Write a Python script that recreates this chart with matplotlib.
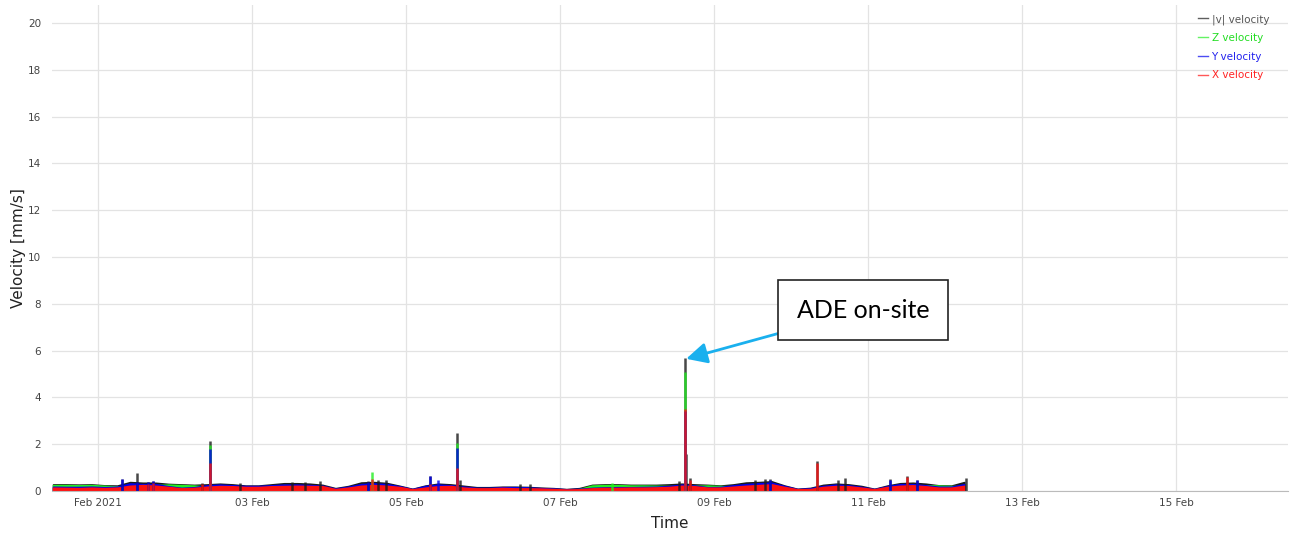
import matplotlib
matplotlib.use("Agg")
import matplotlib.pyplot as plt
import matplotlib.dates as mdates
import numpy as np

# baseline levels every 4 hours, from 2021-01-31 10:00 to 2021-02-12 06:00
base_times = np.arange(np.datetime64("2021-01-31T10:00"), np.datetime64("2021-02-12T06:01"),
                       np.timedelta64(4, "h"))

x_base = [0.14, 0.13, 0.12, 0.14, 0.12, 0.14,
          0.22, 0.25, 0.22, 0.17,
          0.11, 0.13, 0.18, 0.21, 0.20, 0.17,
          0.17, 0.20, 0.21, 0.22, 0.21, 0.20,
          0.08, 0.14, 0.22, 0.25, 0.22, 0.17,
          0.07, 0.14, 0.20, 0.21, 0.14, 0.11,
          0.11, 0.13, 0.11, 0.11, 0.10, 0.08,
          0.06, 0.07, 0.11, 0.13, 0.13, 0.14,
          0.14, 0.15, 0.17, 0.22, 0.20, 0.14,
          0.14, 0.18, 0.22, 0.25, 0.28, 0.17,
          0.07, 0.08, 0.17, 0.21, 0.20, 0.14,
          0.07, 0.17, 0.22, 0.24, 0.20, 0.14,
          0.14, 0.22]
y_base = [0.18, 0.17, 0.17, 0.18, 0.16, 0.18,
          0.32, 0.29, 0.29, 0.20,
          0.13, 0.16, 0.24, 0.27, 0.24, 0.21,
          0.21, 0.24, 0.27, 0.27, 0.25, 0.22,
          0.10, 0.18, 0.29, 0.32, 0.29, 0.20,
          0.08, 0.21, 0.27, 0.24, 0.18, 0.13,
          0.13, 0.16, 0.16, 0.15, 0.12, 0.10,
          0.07, 0.09, 0.13, 0.15, 0.16, 0.16,
          0.17, 0.18, 0.21, 0.27, 0.23, 0.16,
          0.17, 0.24, 0.29, 0.33, 0.35, 0.21,
          0.08, 0.11, 0.21, 0.27, 0.24, 0.17,
          0.08, 0.20, 0.29, 0.29, 0.24, 0.18,
          0.18, 0.29]
z_base = [0.25, 0.25, 0.24, 0.25, 0.22, 0.19,
          0.22, 0.20, 0.25, 0.27,
          0.25, 0.23, 0.18, 0.19, 0.18, 0.15,
          0.13, 0.20, 0.25, 0.23, 0.22, 0.15,
          0.07, 0.13, 0.19, 0.23, 0.19, 0.13,
          0.05, 0.10, 0.15, 0.15, 0.13, 0.10,
          0.10, 0.13, 0.13, 0.12, 0.10, 0.08,
          0.05, 0.08, 0.23, 0.25, 0.25, 0.23,
          0.23, 0.22, 0.21, 0.20, 0.22, 0.23,
          0.21, 0.20, 0.23, 0.20, 0.18, 0.13,
          0.05, 0.08, 0.13, 0.15, 0.15, 0.13,
          0.07, 0.13, 0.18, 0.22, 0.24, 0.23,
          0.21, 0.20]
v_base = [0.28, 0.28, 0.27, 0.28, 0.24, 0.23,
          0.38, 0.35, 0.35, 0.30,
          0.28, 0.26, 0.28, 0.31, 0.28, 0.23,
          0.23, 0.28, 0.33, 0.33, 0.31, 0.26,
          0.12, 0.21, 0.36, 0.38, 0.34, 0.22,
          0.09, 0.23, 0.31, 0.28, 0.22, 0.16,
          0.16, 0.18, 0.18, 0.17, 0.14, 0.12,
          0.08, 0.12, 0.26, 0.28, 0.28, 0.26,
          0.26, 0.26, 0.28, 0.31, 0.28, 0.26,
          0.23, 0.28, 0.36, 0.38, 0.41, 0.23,
          0.09, 0.13, 0.26, 0.31, 0.28, 0.21,
          0.09, 0.23, 0.33, 0.35, 0.31, 0.24,
          0.23, 0.38]

# short peaks: (time, value)
v_peaks = [("2021-02-01T07:30", 0.50), ("2021-02-01T12:15", 0.75), ("2021-02-01T15:35", 0.40),
           ("2021-02-01T17:10", 0.42), ("2021-02-02T08:25", 0.35), ("2021-02-02T10:55", 2.15),
           ("2021-02-02T20:15", 0.33), ("2021-02-03T12:30", 0.40), ("2021-02-03T16:30", 0.38),
           ("2021-02-03T21:10", 0.42), ("2021-02-04T12:10", 0.42), ("2021-02-04T15:20", 0.45),
           ("2021-02-04T17:50", 0.45), ("2021-02-05T07:30", 0.65), ("2021-02-05T15:55", 2.50),
           ("2021-02-05T16:50", 0.45), ("2021-02-06T11:30", 0.30), ("2021-02-06T14:40", 0.30),
           ("2021-02-08T13:00", 0.42), ("2021-02-08T14:55", 5.70), ("2021-02-08T15:20", 1.60),
           ("2021-02-08T16:30", 0.55), ("2021-02-09T12:50", 0.48), ("2021-02-09T16:00", 0.52),
           ("2021-02-09T17:30", 0.52), ("2021-02-10T08:10", 1.30), ("2021-02-10T14:40", 0.48),
           ("2021-02-10T16:50", 0.55), ("2021-02-11T06:50", 0.50), ("2021-02-11T12:10", 0.62),
           ("2021-02-11T15:15", 0.48), ("2021-02-12T06:30", 0.55)]
z_peaks = [("2021-02-02T10:55", 1.95), ("2021-02-04T13:25", 0.80), ("2021-02-05T15:55", 2.05),
           ("2021-02-07T16:15", 0.33), ("2021-02-08T14:55", 5.10)]
y_peaks = [("2021-02-01T07:30", 0.50), ("2021-02-01T12:15", 0.38), ("2021-02-01T15:35", 0.38),
           ("2021-02-01T17:10", 0.42), ("2021-02-02T10:55", 1.80), ("2021-02-04T12:10", 0.38),
           ("2021-02-05T07:30", 0.65), ("2021-02-05T10:00", 0.45), ("2021-02-05T15:55", 1.85),
           ("2021-02-08T14:55", 3.40), ("2021-02-09T17:30", 0.48), ("2021-02-11T06:50", 0.45),
           ("2021-02-11T15:15", 0.45)]
x_peaks = [("2021-02-01T15:35", 0.32), ("2021-02-01T17:10", 0.36), ("2021-02-02T08:25", 0.30),
           ("2021-02-02T10:55", 1.20), ("2021-02-04T13:25", 0.50), ("2021-02-05T07:30", 0.32),
           ("2021-02-05T15:55", 1.00), ("2021-02-08T14:55", 3.50), ("2021-02-08T16:30", 0.45),
           ("2021-02-10T08:10", 1.20), ("2021-02-11T12:10", 0.60)]

tick_dates = ["2021-02-01", "2021-02-03", "2021-02-05", "2021-02-07",
              "2021-02-09", "2021-02-11", "2021-02-13", "2021-02-15"]
tick_labels = ["Feb 2021", "03 Feb", "05 Feb", "07 Feb", "09 Feb", "11 Feb", "13 Feb", "15 Feb"]

series = [
    ("|v| velocity", v_base, v_peaks, "#1a1a1a", "#555555"),
    ("Z velocity", z_base, z_peaks, "#22ee22", "#22dd22"),
    ("Y velocity", y_base, y_peaks, "#0000ee", "#2222ee"),
    ("X velocity", x_base, x_peaks, "#ff1010", "#ff2222"),
]


def to_num(s):
    return mdates.date2num(np.datetime64(s).astype("datetime64[ms]").astype(object))


fig = plt.figure(figsize=(12.92, 5.34), dpi=100)
ax = fig.add_axes([52 / 1292, 43 / 534, 1236 / 1292, 486 / 534])

t_num = mdates.date2num(base_times.astype("datetime64[ms]").astype(object))
handles = []
for name, base, peaks, col, txtcol in series:
    ax.fill_between(t_num, 0, base, color=col, lw=1.2, edgecolor=col)
    pt = [to_num(p[0]) for p in peaks]
    pv = [p[1] for p in peaks]
    ax.vlines(pt, 0, pv, color=col, lw=1.8, alpha=0.8)
    h, = ax.plot([], [], color=col, lw=1, label=name, alpha=0.7)
    handles.append(h)

ax.set_xlim(to_num("2021-01-31T09:40"), to_num("2021-02-16T10:55"))
ax.set_ylim(0, 20.77)
ax.set_yticks(range(0, 21, 2))
ax.set_xticks([to_num(d) for d in tick_dates])
ax.set_xticklabels(tick_labels)
ax.grid(True, color="#e3e3e3", lw=0.9)
ax.set_axisbelow(True)
for s in ["top", "right", "left"]:
    ax.spines[s].set_visible(False)
ax.spines["bottom"].set_color("#bbbbbb")
ax.tick_params(length=0, labelsize=7.5, labelcolor="#444444", pad=8)
ax.tick_params(axis="x", pad=5)
ax.set_xlabel("Time", fontsize=11, color="#222222", labelpad=6)
ax.set_ylabel("Velocity [mm/s]", fontsize=11, color="#222222", labelpad=1)

leg = ax.legend(handles=handles, loc="upper right", frameon=False, fontsize=7.5,
                handlelength=1.0, handletextpad=0.3, labelspacing=0.82,
                bbox_to_anchor=(0.988, 0.99), borderaxespad=0)
for txt, (_, _, _, _, tc) in zip(leg.get_texts(), series):
    txt.set_color(tc)

ax.annotate("ADE on-site", xy=(to_num("2021-02-08T15:20"), 5.65), xytext=(0.656, 0.372),
            textcoords="axes fraction",
            fontsize=18, family="Lato", va="center", ha="center",
            bbox=dict(boxstyle="square,pad=0.75", fc="white", ec="#222222", lw=1.2),
            arrowprops=dict(arrowstyle="-|>,head_length=0.7,head_width=0.35", color="#1ab0ee", lw=2,
                            shrinkA=0, shrinkB=0))

fig.savefig("out.png", dpi=100)
